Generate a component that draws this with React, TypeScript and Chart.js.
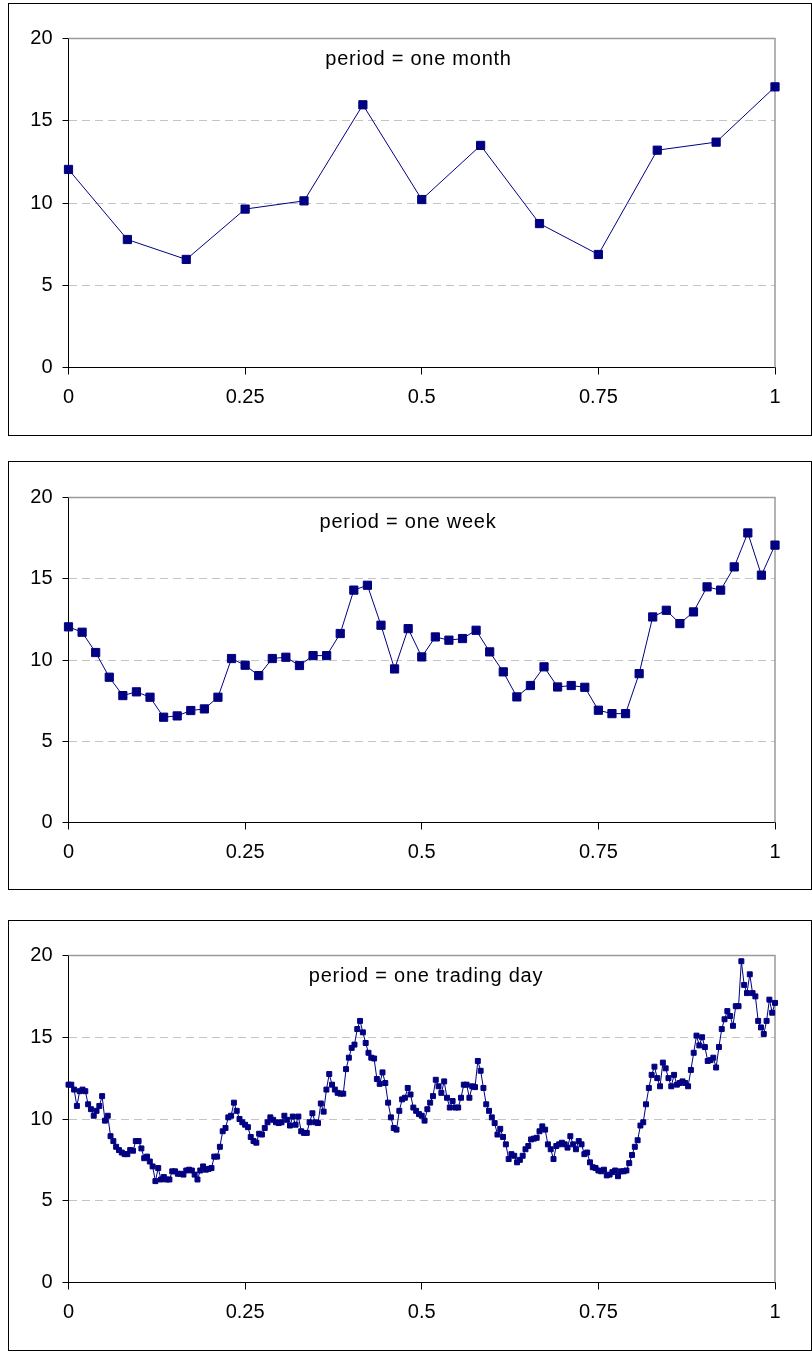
import React, { useEffect, useRef } from 'react';
import { Chart, registerables } from 'chart.js';

Chart.register(...registerables);

// ---- data ----
const monthValues = [12.04, 7.78, 6.57, 9.63, 10.13, 15.97, 10.21, 13.5, 8.75, 6.87, 13.21, 13.7, 17.06];

const weekValues = [
  12.04, 11.71, 10.46, 8.94, 7.81, 8.04, 7.71, 6.48, 6.56, 6.89,
  6.99, 7.71, 10.09, 9.68, 9.04, 10.09, 10.17, 9.66, 10.27, 10.27,
  11.63, 14.3, 14.6, 12.14, 9.45, 11.93, 10.19, 11.42, 11.22, 11.32,
  11.83, 10.5, 9.27, 7.73, 8.43, 9.58, 8.34, 8.43, 8.32, 6.91,
  6.7, 6.7, 9.16, 12.65, 13.06, 12.24, 12.96, 14.5, 14.3, 15.73,
  17.82, 15.22, 17.07,
];

const dayValues = [
  12.1, 12.1, 11.8, 10.8, 11.7, 11.8, 11.7, 10.9, 10.6, 10.2,
  10.5, 10.8, 11.4, 9.9, 10.2, 8.95, 8.65, 8.3, 8.1, 7.95,
  7.85, 7.85, 8.1, 8.06, 8.65, 8.65, 8.2, 7.6, 7.7, 7.4,
  7.1, 6.2, 7.0, 6.3, 6.45, 6.3, 6.3, 6.8, 6.8, 6.65,
  6.65, 6.6, 6.85, 6.9, 6.85, 6.6, 6.3, 6.85, 7.1, 6.9,
  6.95, 7.0, 7.7, 7.7, 8.3, 9.25, 9.45, 10.1, 10.2, 11.0,
  10.5, 10.0, 9.8, 9.65, 9.5, 8.9, 8.65, 8.55, 9.1, 9.05,
  9.45, 9.8, 10.1, 9.95, 9.8, 9.75, 9.8, 10.2, 9.95, 9.6,
  10.15, 9.65, 10.15, 9.25, 9.15, 9.15, 9.8, 10.35, 9.8, 9.75,
  10.95, 10.45, 11.8, 12.75, 12.1, 11.8, 11.6, 11.55, 11.55, 13.05,
  13.75, 14.35, 14.55, 15.5, 16.0, 15.3, 14.65, 14.05, 13.75, 13.7,
  12.45, 12.15, 12.85, 12.2, 11.0, 10.1, 9.45, 9.35, 10.5, 11.2,
  11.3, 11.9, 11.5, 10.7, 10.5, 10.3, 10.2, 9.9, 10.6, 11.0,
  11.4, 12.4, 12.0, 11.6, 12.3, 11.3, 10.7, 11.1, 10.7, 10.7,
  11.3, 12.1, 12.1, 11.3, 12.0, 11.95, 13.55, 12.95, 11.9, 10.9,
  10.5, 10.1, 9.75, 9.05, 9.4, 8.9, 8.45, 7.55, 7.85, 7.75,
  7.35, 7.5, 7.75, 8.15, 8.35, 8.75, 8.8, 8.85, 9.25, 9.55,
  9.35, 8.45, 8.15, 7.55, 8.35, 8.45, 8.55, 8.45, 8.25, 8.95,
  8.45, 8.15, 8.65, 8.45, 7.85, 7.95, 7.35, 7.05, 7.0, 6.85,
  6.8, 6.9, 6.55, 6.6, 6.75, 6.85, 6.5, 6.8, 6.8, 6.85,
  7.3, 7.8, 8.3, 8.7, 9.6, 9.8, 10.9, 11.9, 12.7, 13.2,
  12.5, 12.0, 13.45, 13.1, 12.5, 12.0, 12.7, 12.1, 12.2, 12.3,
  12.2, 12.0, 13.0, 14.05, 15.1, 14.5, 15.0, 14.4, 13.55, 13.6,
  13.75, 13.15, 14.4, 15.5, 16.1, 16.6, 16.3, 15.7, 16.9, 16.9,
  19.65, 18.2, 17.7, 18.85, 17.7, 17.5, 16.0, 15.6, 15.2, 16.0,
  17.3, 16.5, 17.1,
];

const panelTitles = ['period = one month', 'period = one week', 'period = one trading day'];
const yTickValues = [0, 5, 10, 15, 20];
const xTickValues = [0, 0.25, 0.5, 0.75, 1];
const xTickLabels = ['0', '0.25', '0.5', '0.75', '1'];

// ---- layout / style ----
const FONT = '"Liberation Sans", Arial, Helvetica, sans-serif';
const NAVY = '#000080';
const BOX_LEFT = 8;
const BOX_WIDTH = 804; // outer
const INNER_W = BOX_WIDTH - 2;
const AXIS_W = 59.5;
const RIGHT_PAD = 36;

type PanelLayout = {
  top: number;
  height: number;
  chartTop: number;
  chartBottom: number;
  titleOffset: number;
  titleX: number;
  radius: number;
};

const layouts: PanelLayout[] = [
  { top: 3, height: 433, chartTop: 34.5, chartBottom: 363.5, titleOffset: 26, titleX: 418.5, radius: 5.8 },
  { top: 461, height: 429, chartTop: 35.5, chartBottom: 360.5, titleOffset: 30.5, titleX: 408, radius: 5.8 },
  { top: 920, height: 431, chartTop: 34.5, chartBottom: 361.5, titleOffset: 26.5, titleX: 426, radius: 3.5 },
];

function Panel({ values, title, layout }: { values: number[]; title: string; layout: PanelLayout }) {
  const ref = useRef<HTMLCanvasElement | null>(null);
  const innerH = layout.height - 2;

  useEffect(() => {
    if (!ref.current) return;
    const points = values.map((v, i) => ({ x: i / (values.length - 1), y: v }));

    const framePlugin = {
      id: 'frame',
      beforeDatasetsDraw(chart: any) {
        const { ctx, chartArea } = chart;
        ctx.save();
        ctx.strokeStyle = '#9a9a9a';
        ctx.lineWidth = 1.5;
        ctx.beginPath();
        ctx.moveTo(chartArea.left, chartArea.top);
        ctx.lineTo(chartArea.right, chartArea.top);
        ctx.lineTo(chartArea.right, chartArea.bottom);
        ctx.stroke();
        ctx.restore();
      },
      afterDraw(chart: any) {
        const { ctx, chartArea } = chart;
        ctx.save();
        ctx.fillStyle = '#000';
        ctx.font = '20px ' + FONT;
        try {
          (ctx as any).letterSpacing = '0.75px';
        } catch (e) {
          /* ignore */
        }
        ctx.textAlign = 'center';
        ctx.textBaseline = 'alphabetic';
        ctx.fillText(title, layout.titleX - BOX_LEFT - 1, chartArea.top + layout.titleOffset);
        ctx.restore();
      },
    };

    const chart = new Chart(ref.current, {
      type: 'line',
      data: {
        datasets: [
          {
            data: points,
            borderColor: NAVY,
            borderWidth: 1,
            backgroundColor: NAVY,
            pointStyle: 'rect',
            pointRadius: layout.radius,
            pointBackgroundColor: NAVY,
            pointBorderColor: NAVY,
            pointBorderWidth: 1,
            tension: 0,
            clip: false as any,
          },
        ],
      },
      options: {
        responsive: false,
        animation: false,
        events: [],
        layout: { padding: { top: layout.chartTop, right: RIGHT_PAD, left: 0, bottom: 0 } },
        plugins: { legend: { display: false }, tooltip: { enabled: false }, title: { display: false } },
        scales: {
          x: {
            type: 'linear',
            min: 0,
            max: 1,
            afterBuildTicks: (s: any) => {
              s.ticks = xTickValues.map((v) => ({ value: v }));
            },
            afterFit: (s: any) => {
              s.height = innerH - layout.chartBottom;
            },
            ticks: {
              autoSkip: false,
              maxRotation: 0,
              color: '#000',
              padding: 11,
              font: { family: FONT, size: 20 },
              callback: (v: any) => {
                const idx = xTickValues.indexOf(Number(v));
                return idx >= 0 ? xTickLabels[idx] : '';
              },
            },
            grid: { drawOnChartArea: false, drawTicks: true, tickLength: 7, tickColor: '#000', color: '#000' },
            border: { display: true, color: '#000', width: 1 },
          },
          y: {
            type: 'linear',
            min: 0,
            max: 20,
            afterBuildTicks: (s: any) => {
              s.ticks = yTickValues.map((v) => ({ value: v }));
            },
            afterFit: (s: any) => {
              s.width = AXIS_W;
            },
            ticks: {
              color: '#000',
              padding: 10,
              font: { family: FONT, size: 20 },
            },
            grid: {
              drawTicks: true,
              tickLength: 6,
              tickColor: '#000',
              color: (c: any) => {
                const v = c.tick ? c.tick.value : 0;
                return v > 0 && v < 20 ? '#c4c4c4' : 'rgba(0,0,0,0)';
              },
            },
            border: { display: true, color: '#000', width: 1, dash: [8, 5] },
          },
        },
      },
      plugins: [framePlugin],
    });
    return () => chart.destroy();
  }, [values, title, layout, innerH]);

  return (
    <div
      style={{
        position: 'absolute',
        left: BOX_LEFT,
        top: layout.top,
        width: BOX_WIDTH,
        height: layout.height,
        boxSizing: 'border-box',
        border: '1px solid #000',
        background: '#fff',
      }}
    >
      <canvas ref={ref} width={INNER_W} height={innerH} style={{ display: 'block', width: INNER_W, height: innerH }} />
    </div>
  );
}

export default function App() {
  const series = [monthValues, weekValues, dayValues];
  return (
    <div style={{ position: 'absolute', left: 0, top: 0, width: 812, height: 1352, background: '#fff' }}>
      {series.map((vals, i) => (
        <Panel key={i} values={vals} title={panelTitles[i]} layout={layouts[i]} />
      ))}
    </div>
  );
}
